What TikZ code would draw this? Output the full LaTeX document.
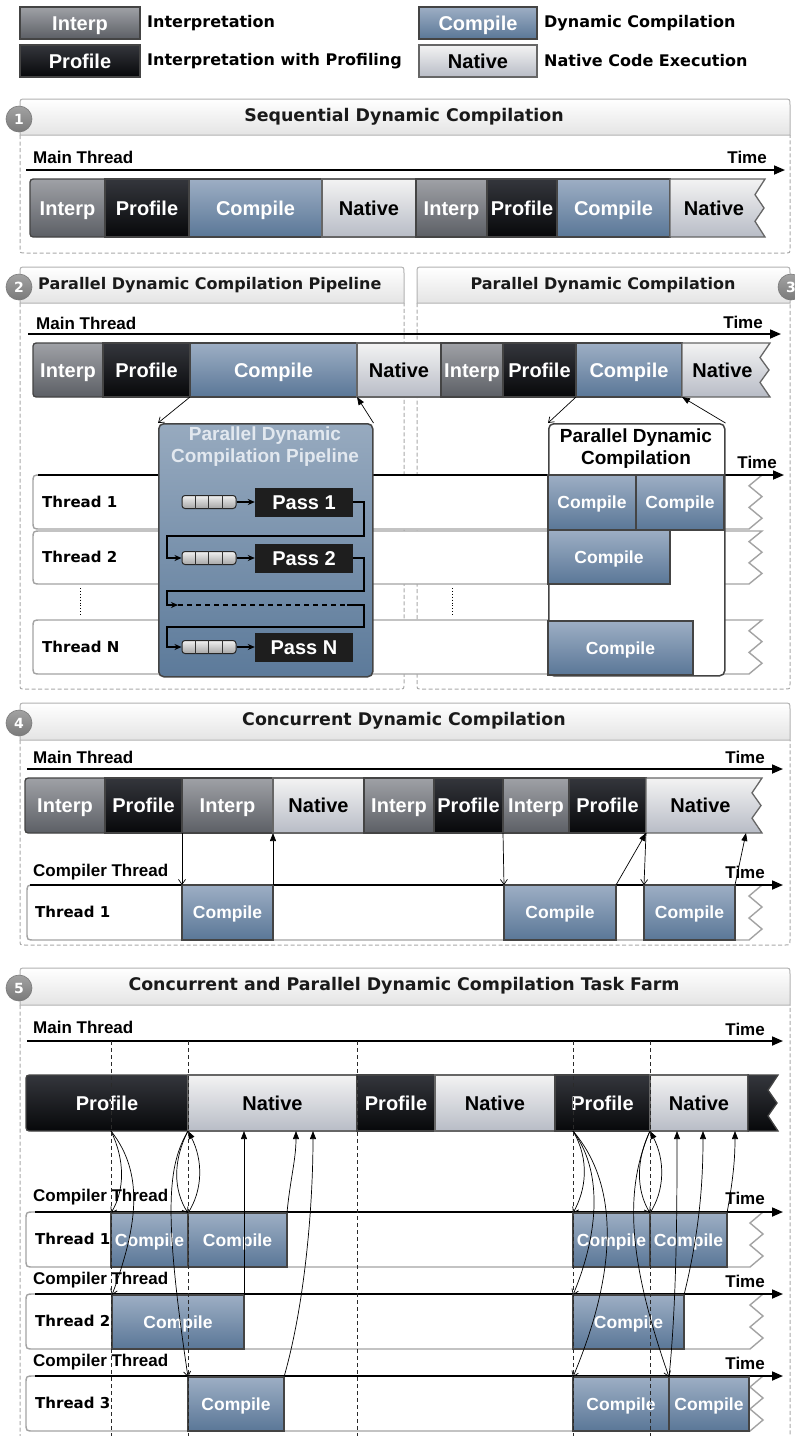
\documentclass[tikz,border=0pt]{standalone}
\usepackage{fontspec}
\setmainfont{Liberation Sans}
\newfontfamily\dejavu{DejaVu Sans}
\usetikzlibrary{arrows.meta}

\definecolor{interpT}{HTML}{9FA1A6}
\definecolor{interpB}{HTML}{5C5F65}
\definecolor{profT}{HTML}{34363C}
\definecolor{profB}{HTML}{07080A}
\definecolor{compT}{HTML}{9DAEC4}
\definecolor{compB}{HTML}{5A7797}
\definecolor{natT}{HTML}{F3F3F3}
\definecolor{natB}{HTML}{B8BCC6}
\definecolor{edgec}{HTML}{444444}
\definecolor{natE}{HTML}{666666}
\definecolor{pipeT}{HTML}{97AABF}
\definecolor{pipeB}{HTML}{5C7A9A}
\definecolor{pipeTxt}{HTML}{E2E8EF}
\definecolor{qT}{HTML}{F0F0F0}
\definecolor{qB}{HTML}{A6A6A6}
\definecolor{passc}{HTML}{1E1E1E}
\definecolor{laneE}{HTML}{A3A3A3}
\definecolor{hdrB}{HTML}{E4E4E4}
\definecolor{hdrE}{HTML}{B2B2B2}
\definecolor{bodyE}{HTML}{A9A9A9}
\definecolor{numT}{HTML}{A2A2A2}
\definecolor{numB}{HTML}{7A7A7A}
\definecolor{vdash}{HTML}{2A2A2A}
\definecolor{titlec}{HTML}{1A1A1A}

\tikzset{
  edge/.style={draw=edgec, line width=1.3pt},
  interp/.style={top color=interpT, bottom color=interpB, edge},
  prof/.style={top color=profT, bottom color=profB, edge},
  comp/.style={top color=compT, bottom color=compB, edge},
  nat/.style={top color=natT, bottom color=natB, draw=natE, line width=1.3pt},
  lcomp/.style={comp},
  dark/.style={prof},
  bartxt/.style={font=\bfseries\fontsize{20}{22}\selectfont, text height=16pt, text depth=1.7pt},
  interp text/.style={bartxt, text=white},
  prof text/.style={bartxt, text=white},
  comp text/.style={bartxt, text=white},
  nat text/.style={bartxt, text=black},
  lcomp text/.style={font=\bfseries\fontsize{17.5}{20}\selectfont, text=white, text height=14pt, text depth=1.5pt},
  dark text/.style={},
  legtxt/.style={font=\dejavu\bfseries\fontsize{16}{18}\selectfont, anchor=west, inner sep=0pt},
  title/.style={font=\dejavu\bfseries\fontsize{17.4}{20}\selectfont, text=titlec, inner sep=0pt},
  stitle/.style={font=\dejavu\bfseries\fontsize{16}{19}\selectfont, text=titlec, inner sep=0pt},
  thr/.style={font=\dejavu\bfseries\fontsize{15}{18}\selectfont, anchor=west, inner sep=0pt},
  lbl/.style={font=\bfseries\fontsize{17}{20}\selectfont, inner sep=0pt},
  numc/.style={circle, minimum size=26pt, inner sep=0pt, top color=numT, bottom color=numB,
    draw=numB, line width=0.6pt, text=white, font=\dejavu\bfseries\fontsize{14}{16}\selectfont},
  hdr/.style={top color=white, bottom color=hdrB, draw=hdrE, line width=1pt},
  bodyline/.style={draw=bodyE, line width=1pt, dash pattern=on 4pt off 2.5pt},
  lane/.style={fill=white, draw=laneE, line width=1.4pt},
  timearrow/.style={line width=1.7pt, -{Triangle[length=11pt,width=9pt]}},
  disp/.style={line width=0.7pt, -{Straight Barb[length=5pt,width=7pt]}},
  ret/.style={line width=0.7pt, -{Triangle[length=8pt,width=6pt]}},
  queue/.style={rounded corners=3pt, minimum width=54pt, minimum height=13pt, inner sep=0pt,
    top color=qT, bottom color=qB, draw=black!85, line width=1pt},
  qsep/.style={draw=black!80, line width=0.8pt},
  pass/.style={fill=passc, minimum width=98pt, minimum height=29pt, inner sep=0pt,
    text=white, font=\bfseries\fontsize{20}{22}\selectfont, text height=16pt, text depth=1.7pt},
  pconn/.style={line width=1.3pt, -{Stealth[length=7pt,width=6pt]}},
  pline/.style={line width=1.3pt},
  pipebox/.style={rounded corners=5pt, top color=pipeT, bottom color=pipeB, draw=edgec,
    line width=1.5pt, minimum width=214pt, minimum height=253pt, anchor=north west, inner sep=0pt},
  pdcbox/.style={rounded corners=5pt, fill=white, draw=edgec, line width=1.5pt,
    minimum width=176pt, minimum height=252pt, anchor=north west, inner sep=0pt},
  boxtitle/.style={font=\bfseries\fontsize{19}{22}\selectfont, align=center, inner sep=0pt},
  vdashed/.style={draw=vdash, line width=0.8pt, dash pattern=on 4pt off 3pt},
}

% a labelled block: name, kind, x1, x2, y1, y2, text
\newcommand\segnode[7]{%
  \pgfmathsetmacro\segW{#4-(#3)}%
  \pgfmathsetmacro\segH{#6-(#5)}%
  \pgfmathsetmacro\segX{(#3+#4)/2}%
  \pgfmathsetmacro\segY{(#5+#6)/2}%
  \node[#2 text, minimum width=\segW pt, minimum height=\segH pt, inner sep=0pt, outer sep=0pt] (#1) at (\segX,\segY) {#7};}
\newcommand\segP[7]{\path[#2] (#3,#5) rectangle (#4,#6);\segnode{#1}{#2}{#3}{#4}{#5}{#6}{#7}}
\newcommand\segL[7]{\path[#2] (#4,#5) -- ({#3+7},#5) .. controls (#3,#5) .. (#3,{#5+7}) -- (#3,{#6-7}) .. controls (#3,#6) .. ({#3+7},#6) -- (#4,#6) -- cycle;\segnode{#1}{#2}{#3}{#4}{#5}{#6}{#7}}
\newcommand\segZ[7]{\pgfmathsetmacro\zigH{#6-(#5)}\path[#2] (#3,#5) -- (#4,#5) -- ({#4-10},{#5+0.27*\zigH}) -- ({#4-1},{#5+0.5*\zigH}) -- ({#4-10},{#5+0.73*\zigH}) -- (#4,#6) -- (#3,#6) -- cycle;\segnode{#1}{#2}{#3}{#4-7}{#5}{#6}{#7}}
% thread lane: x1, xR, y1, y2
\newcommand\lane[4]{\pgfmathsetmacro\laneH{#4-(#3)}\path[lane] (#2,#3) -- ({#1+8},#3) .. controls (#1,#3) .. (#1,{#3+8}) -- (#1,{#4-8}) .. controls (#1,#4) .. ({#1+8},#4) -- ({#2-13},#4) -- (#2,{#4-0.2*\laneH}) -- ({#2-13},{#4-0.4*\laneH}) -- (#2,{#4-0.6*\laneH}) -- ({#2-13},{#4-0.8*\laneH}) -- cycle;}
% section header and dashed body: x1, x2, y1, y2
\newcommand\sechead[4]{\path[hdr] (#1,#4) -- (#1,{#3+6}) .. controls (#1,#3) .. ({#1+6},#3) -- ({#2-6},#3) .. controls (#2,#3) .. (#2,{#3+6}) -- (#2,#4) -- cycle;}
\newcommand\secbody[4]{\path[bodyline] (#1,#3) -- (#1,{#4-5}) .. controls (#1,#4) .. ({#1+5},#4) -- ({#2-5},#4) .. controls (#2,#4) .. (#2,{#4-5}) -- (#2,#3);}
% work queue with four cells: name, x, y
\newcommand\workqueue[3]{\node[queue] (#1) at (#2,#3) {};\foreach \k in {1,2,3} \draw[qsep] ([xshift=\k*13.5pt]#1.north west) -- ([xshift=\k*13.5pt]#1.south west);}

\begin{document}
\begin{tikzpicture}[x=1pt,y=-1pt]
\useasboundingbox[fill=white] (0,0) rectangle (795,1436);

% ---------------- legend ----------------
\segP{lgI}{interp}{20}{140}{7}{39}{Interp}
\node[legtxt] (lgIt) at (147,23) {Interpretation};
\segP{lgP}{prof}{20}{140}{45}{77}{Profile}
\node[legtxt] (lgPt) at (147,61) {Interpretation with Profiling};
\segP{lgC}{comp}{419}{537}{7}{39}{Compile}
\node[legtxt] (lgCt) at (544,23) {Dynamic Compilation};
\segP{lgN}{nat}{419}{537}{45}{77}{Native}
\node[legtxt] (lgNt) at (544,61) {Native Code Execution};

% ---------------- 1: sequential ----------------
\secbody{20}{790}{135}{253}
\sechead{20}{790}{99}{135}
\node[title] (h1) at (404,117) {Sequential Dynamic Compilation};
\node[numc] (n1) at (19,119) {1};
\node[lbl, anchor=west] (mt1) at (33,157) {Main Thread};
\node[lbl, anchor=east] (tm1) at (767,157) {Time};
\coordinate (a1s) at (26,170); \coordinate (a1e) at (785,170);
\draw[timearrow] (a1s) -- (a1e);
\segL{s1a}{interp}{30}{105}{179}{237}{Interp}
\segP{s1b}{prof}{105}{189}{179}{237}{Profile}
\segP{s1c}{comp}{189}{322}{179}{237}{Compile}
\segP{s1d}{nat}{322}{416}{179}{237}{Native}
\segP{s1e}{interp}{416}{487}{179}{237}{Interp}
\segP{s1f}{prof}{487}{557}{179}{237}{Profile}
\segP{s1g}{comp}{557}{670}{179}{237}{Compile}
\segZ{s1h}{nat}{670}{765}{179}{237}{Native}

% ---------------- 2 and 3: parallel ----------------
\secbody{20}{404}{303}{689}
\secbody{417}{790}{303}{689}
\sechead{20}{404}{267}{303}
\sechead{417}{790}{267}{303}
\node[stitle, anchor=west] (h2) at (38,285) {Parallel Dynamic Compilation Pipeline};
\node[stitle] (h3) at (603,285) {Parallel Dynamic Compilation};
\node[numc] (n2) at (19,287) {2};
\node[numc] (n3) at (791,287) {3};
\node[lbl, anchor=west] (mt2) at (36,323) {Main Thread};
\node[lbl, anchor=east] (tm2) at (763,322) {Time};
\coordinate (a2s) at (28,334); \coordinate (a2e) at (781,334);
\draw[timearrow] (a2s) -- (a2e);
\segL{s2a}{interp}{33}{103}{343}{397}{Interp}
\segP{s2b}{prof}{103}{190}{343}{397}{Profile}
\segP{s2c}{comp}{190}{357}{343}{397}{Compile}
\segP{s2d}{nat}{357}{441}{343}{397}{Native}
\segP{s2e}{interp}{441}{503}{343}{397}{Interp}
\segP{s2f}{prof}{503}{576}{343}{397}{Profile}
\segP{s2g}{comp}{576}{682}{343}{397}{Compile}
\segZ{s2h}{nat}{682}{770}{343}{397}{Native}

\lane{33}{762}{475}{529}
\lane{33}{762}{531}{584}
\lane{33}{762}{620}{674}
\node[thr] (th21) at (42,502) {Thread 1};
\node[thr] (th22) at (42,557) {Thread 2};
\node[thr] (th2n) at (42,647) {Thread N};
\draw[dotted, line width=0.9pt] (80,588) -- (80,616);
\draw[dotted, line width=0.9pt] (452,588) -- (452,616);
\node[lbl, anchor=east] (tm2t) at (777,462) {Time};
\coordinate (a2ts) at (38,475); \coordinate (a2te) at (784,475);
\draw[timearrow] (a2ts) -- (a2te);

% pipeline of passes
\node[pipebox] (pipe) at (158,423) {};
\node[boxtitle, text=pipeTxt] (pipet) at (265,447) {Parallel Dynamic\\Compilation Pipeline};
\workqueue{q1}{209}{502}
\workqueue{q2}{209}{558}
\workqueue{qn}{209}{647}
\node[pass] (pass1) at (304,502) {Pass 1};
\node[pass] (pass2) at (304,558) {Pass 2};
\node[pass] (passn) at (304,647) {Pass N};
\draw[pconn] (q1.east) -- (pass1.west);
\draw[pconn] (q2.east) -- (pass2.west);
\draw[pconn] (qn.east) -- (passn.west);
\draw[pconn] (pass1.east) -- (364,502) -- (364,536) -- (167,536) -- (167,558) -- (q2.west);
\coordinate (gapL) at (178,605); \coordinate (gapR) at (347,605);
\draw[pconn] (pass2.east) -- (364,558) -- (364,591) -- (167,591) -- (167,605) -- (gapL);
\draw[pline, dash pattern=on 5pt off 4pt] (gapL) -- (gapR);
\draw[pconn] (gapR) -- (364,605) -- (364,627) -- (167,627) -- (167,647) -- (qn.west);

% parallel compilation box
\node[pdcbox] (pdc) at (548,423) {};
\node[boxtitle] (pdct) at (636,449) {Parallel Dynamic\\Compilation};
\segP{c3a}{lcomp}{548}{636}{475}{530}{Compile}
\segP{c3b}{lcomp}{636}{724}{475}{530}{Compile}
\segP{c3c}{lcomp}{548}{670}{530}{584}{Compile}
\segP{c3d}{lcomp}{548}{693}{621}{675}{Compile}

\draw[disp] (s2b.south east) -- (pipe.north west);
\draw[ret] (pipe.north east) -- (s2c.south east);
\draw[disp] (s2g.south west) -- (pdc.north west);
\draw[ret] (pdc.north east) -- (s2g.south east);

% ---------------- 4: concurrent ----------------
\secbody{20}{790}{740}{945}
\sechead{20}{790}{703}{740}
\node[title] (h4) at (404,721) {Concurrent Dynamic Compilation};
\node[numc] (n4) at (19,723) {4};
\node[lbl, anchor=west] (mt4) at (33,757) {Main Thread};
\node[lbl, anchor=east] (tm4) at (765,757) {Time};
\coordinate (a4s) at (27,769); \coordinate (a4e) at (783,769);
\draw[timearrow] (a4s) -- (a4e);
\segL{s4a}{interp}{25}{105}{778}{833}{Interp}
\segP{s4b}{prof}{105}{182}{778}{833}{Profile}
\segP{s4c}{interp}{182}{273}{778}{833}{Interp}
\segP{s4d}{nat}{273}{364}{778}{833}{Native}
\segP{s4e}{interp}{364}{434}{778}{833}{Interp}
\segP{s4f}{prof}{434}{503}{778}{833}{Profile}
\segP{s4g}{interp}{503}{569}{778}{833}{Interp}
\segP{s4h}{prof}{569}{646}{778}{833}{Profile}
\segZ{s4i}{nat}{646}{762}{778}{833}{Native}
\lane{27}{762}{885}{940}
\node[lbl, anchor=west] (ct4) at (33,872) {Compiler Thread};
\node[lbl, anchor=east] (tm4c) at (765,872) {Time};
\coordinate (a4cs) at (30,885); \coordinate (a4ce) at (783,885);
\draw[timearrow] (a4cs) -- (a4ce);
\node[thr] (th41) at (35,912) {Thread 1};
\segP{c4a}{lcomp}{182}{273}{885}{940}{Compile}
\segP{c4b}{lcomp}{504}{616}{885}{940}{Compile}
\segP{c4c}{lcomp}{644}{735}{885}{940}{Compile}
\coordinate (r4) at (746,833);
\draw[disp] (s4b.south east) -- (c4a.north west);
\draw[ret] (c4a.north east) -- (s4c.south east);
\draw[disp] (s4f.south east) -- (c4b.north west);
\draw[ret] (c4b.north east) -- (s4h.south east);
\draw[disp] (s4h.south east) -- (c4c.north west);
\draw[ret] (c4c.north east) -- (r4);

% ---------------- 5: task farm ----------------
\secbody{20}{790}{1005}{1450}
\sechead{20}{790}{968}{1005}
\node[title] (h5) at (404,986) {Concurrent and Parallel Dynamic Compilation Task Farm};
\node[numc] (n5) at (19,988) {5};
\node[lbl, anchor=west] (mt5) at (33,1027) {Main Thread};
\node[lbl, anchor=east] (tm5) at (765,1029) {Time};
\coordinate (a5s) at (27,1041); \coordinate (a5e) at (783,1041);
\draw[timearrow] (a5s) -- (a5e);
\segL{s5a}{prof}{26}{188}{1075}{1131}{Profile}
\segP{s5b}{nat}{188}{357}{1075}{1131}{Native}
\segP{s5c}{prof}{357}{435}{1075}{1131}{Profile}
\segP{s5d}{nat}{435}{555}{1075}{1131}{Native}
\segP{s5e}{prof}{555}{650}{1075}{1131}{Profile}
\segP{s5f}{nat}{650}{748}{1075}{1131}{Native}
\segZ{s5g}{dark}{748}{778}{1075}{1131}{}

\lane{26}{763}{1212}{1267}
\lane{26}{763}{1294}{1349}
\lane{26}{763}{1376}{1431}
\node[lbl, anchor=west] (ct51) at (33,1197) {Compiler Thread};
\node[lbl, anchor=west] (ct52) at (33,1280) {Compiler Thread};
\node[lbl, anchor=west] (ct53) at (33,1362) {Compiler Thread};
\node[lbl, anchor=east] (tm51) at (765,1198) {Time};
\node[lbl, anchor=east] (tm52) at (765,1281) {Time};
\node[lbl, anchor=east] (tm53) at (765,1363) {Time};
\coordinate (a51s) at (35,1212); \coordinate (a51e) at (783,1212);
\coordinate (a52s) at (35,1294); \coordinate (a52e) at (783,1294);
\coordinate (a53s) at (35,1376); \coordinate (a53e) at (783,1376);
\draw[timearrow] (a51s) -- (a51e);
\draw[timearrow] (a52s) -- (a52e);
\draw[timearrow] (a53s) -- (a53e);
\node[thr] (th51) at (35,1239) {Thread 1};
\node[thr] (th52) at (35,1321) {Thread 2};
\node[thr] (th53) at (35,1403) {Thread 3};
\segP{c51}{lcomp}{111}{188}{1213}{1267}{Compile}
\segP{c52}{lcomp}{188}{287}{1213}{1267}{Compile}
\segP{c53}{lcomp}{573}{650}{1213}{1267}{Compile}
\segP{c54}{lcomp}{650}{727}{1213}{1267}{Compile}
\segP{c61}{lcomp}{112}{244}{1295}{1349}{Compile}
\segP{c62}{lcomp}{573}{684}{1295}{1349}{Compile}
\segP{c71}{lcomp}{188}{284}{1377}{1431}{Compile}
\segP{c72}{lcomp}{573}{669}{1377}{1431}{Compile}
\segP{c73}{lcomp}{669}{749}{1377}{1431}{Compile}

% dispatch points and return points on the main thread
\coordinate (d51) at (111,1131);
\coordinate (d53) at (573,1131);
\coordinate (r51) at (244,1131);
\coordinate (r52) at (296,1131);
\coordinate (r53) at (313,1131);
\coordinate (r54) at (677,1131);
\coordinate (r55) at (703,1131);
\coordinate (r56) at (735,1131);

\draw[disp] (d51) .. controls (125,1160) and (125,1190) .. (c51.north west);
\draw[disp] (d51) .. controls (146,1175) and (136,1230) .. (c61.north west);
\draw[disp] (s5b.south west) .. controls (173,1160) and (173,1190) .. (c52.north west);
\draw[disp] (s5b.south west) .. controls (168,1165) and (163,1210) .. (c71.north west);
\draw[ret] (c51.north east) .. controls (203,1190) and (203,1160) .. (s5b.south west);
\draw[ret] (c61.north east) -- (r51);
\draw[ret] (c52.north east) .. controls (290,1180) and (296,1160) .. (r52);
\draw[ret] (c71.north east) .. controls (306,1300) and (313,1200) .. (r53);

\draw[disp] (d53) .. controls (590,1160) and (586,1190) .. (c53.north west);
\draw[disp] (d53) .. controls (602,1170) and (600,1230) .. (c62.north west);
\draw[disp] (d53) .. controls (615,1180) and (622,1260) .. (c72.north west);
\draw[disp] (s5f.south west) .. controls (636,1160) and (636,1190) .. (c54.north west);
\draw[disp] (s5f.south west) .. controls (624,1190) and (628,1260) .. (c73.north west);
\draw[ret] (c53.north east) .. controls (665,1190) and (665,1160) .. (s5f.south west);
\draw[ret] (c72.north east) .. controls (677,1300) and (677,1200) .. (r54);
\draw[ret] (c62.north east) .. controls (700,1230) and (703,1180) .. (r55);
\draw[ret] (c54.north east) .. controls (733,1180) and (735,1160) .. (r56);

% time marks across the task farm
\foreach \xv/\nm in {111/v1,188/v2,357/v3,573/v4,650/v5} {
  \coordinate (\nm t) at (\xv,1041); \coordinate (\nm b) at (\xv,1440);
  \draw[vdashed] (\nm t) -- (\nm b);
}
\end{tikzpicture}
\end{document}
